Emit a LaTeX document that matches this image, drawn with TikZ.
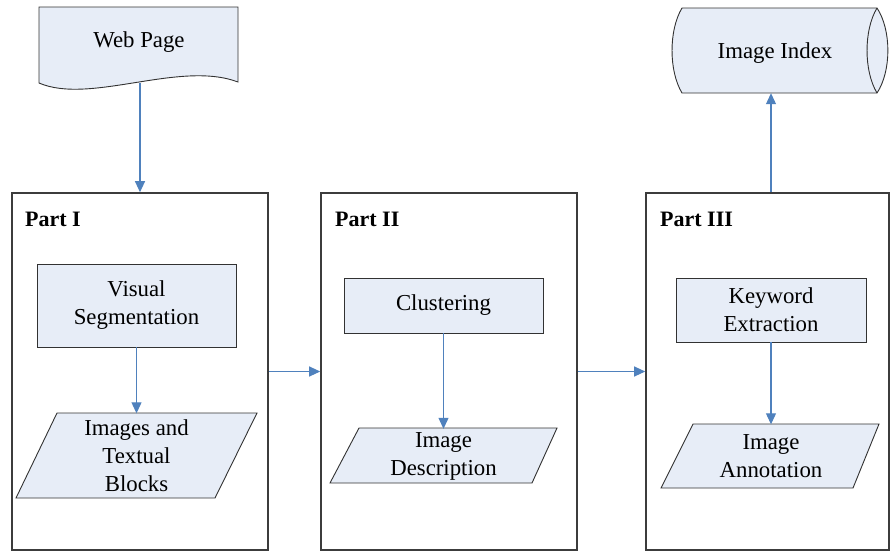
\documentclass[tikz,border=0pt]{standalone}
\usepackage{fontspec}
\setmainfont{Liberation Serif}
\newfontfamily\tnr{Liberation Serif}
\usetikzlibrary{arrows.meta}
\definecolor{boxfill}{RGB}{231,237,247}
\definecolor{arrowblue}{RGB}{79,129,189}
\definecolor{edgegray}{RGB}{50,50,50}
\definecolor{partgray}{RGB}{60,60,60}
\begin{document}
\begin{tikzpicture}[x=1pt,y=-1pt,
  txt/.style={font=\tnr\fontsize{22.8}{28}\selectfont, align=center, inner sep=0pt},
  shapeline/.style={draw=edgegray, line width=0.9pt, fill=boxfill},
  procbox/.style={shapeline, rectangle, inner sep=0pt, font=\tnr\fontsize{22.8}{28}\selectfont, align=center},
  partbox/.style={draw=partgray, line width=1.6pt, rectangle, inner sep=0pt},
  partlabel/.style={font=\tnr\bfseries\fontsize{22}{26}\selectfont, anchor=base west, inner sep=0pt},
  arr/.style={draw=arrowblue, line width=1.1pt, -{Triangle[length=11pt,width=10pt]}, fill=none}
]
\useasboundingbox (0,0) rectangle (891,555);

% Web Page document shape
\path[shapeline] (39,7) -- (238,7) -- (238,82) .. controls (180,60) and (90,105) .. (39,83) -- cycle;
\node[txt] (webpage) at (139,42) {Web Page};
\coordinate (wpb) at (140,83);

% Image Index cylinder
\path[shapeline] (682,8) -- (877,8) .. controls (891.5,30) and (891.5,71) .. (877,93)
  -- (682,93) .. controls (668.7,71) and (668.7,30) .. (682,8) -- cycle;
\draw[draw=edgegray, line width=0.9pt] (877,8) .. controls (863.7,30) and (863.7,71) .. (877,93);
\node[txt] (idxtext) at (775,53) {Image Index};
\node[inner sep=0pt, minimum width=195pt, minimum height=85pt] (idx) at (780,50.5) {};

% Part boxes
\node[partbox, minimum width=256pt, minimum height=357pt] (p1) at (140,371.5) {};
\node[partbox, minimum width=256pt, minimum height=357pt] (p2) at (449,371.5) {};
\node[partbox, minimum width=243pt, minimum height=357pt] (p3) at (767.5,371.5) {};
\node[partlabel] (l1) at (25,226) {Part I};
\node[partlabel] (l2) at (335,226) {Part II};
\node[partlabel] (l3) at (660,226) {Part III};

% Process boxes
\node[procbox, minimum width=199pt, minimum height=83pt] (vs) at (136.5,305.5) {Visual\\Segmentation};
\node[procbox, minimum width=199pt, minimum height=55pt] (cl) at (443.5,305.5) {Clustering};
\node[procbox, minimum width=190pt, minimum height=64pt] (kw) at (771,310) {Keyword\\Extraction};

% Parallelograms
\path[shapeline] (57,413) -- (257,413) -- (215,498) -- (16,498) -- cycle;
\node[txt, minimum width=160pt, minimum height=85pt] (itb) at (136.5,456) {Images and\\Textual\\Blocks};
\path[shapeline] (359,428) -- (557,428) -- (532,483) -- (330,483) -- cycle;
\node[txt, minimum width=170pt, minimum height=55pt] (idesc) at (443.5,456.5) {Image\\Description};
\path[shapeline] (693,424) -- (879,424) -- (853,488) -- (661,488) -- cycle;
\node[txt, minimum width=160pt, minimum height=64pt] (iann) at (771,456.5) {Image\\Annotation};

% Connectors
\draw[arr] (wpb) -- (wpb |- p1.north);
\draw[arr] (vs.south) -- (vs.south |- itb.north);
\draw[arr] (cl.south) -- (cl.south |- idesc.north);
\draw[arr] (kw.south) -- (kw.south |- iann.north);
\draw[arr] (p1.east) -- (p2.west);
\draw[arr] (p2.east) -- (p3.west);
\draw[arr] (kw.north |- p3.north) -- (kw.north |- idx.south);
\end{tikzpicture}
\end{document}
